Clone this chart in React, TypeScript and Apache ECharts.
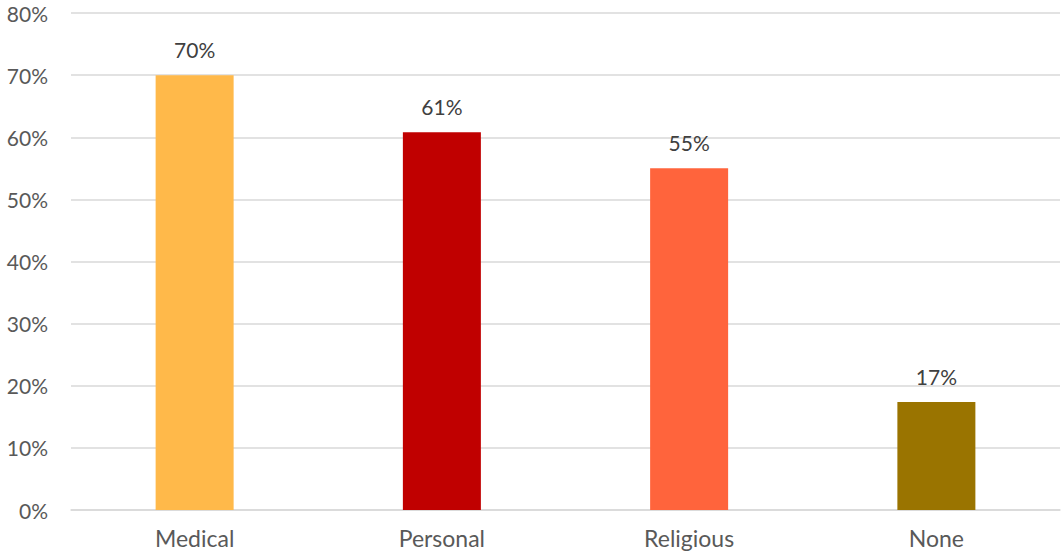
import React, { useEffect, useRef } from "react";
import * as echarts from "echarts";

const categories = ["Medical", "Personal", "Religious", "None"];
const values = [70, 60.8, 55, 17.4];
const barColors = ["#FFB94A", "#C00000", "#FF643C", "#9A7400"];
const yTicks = { min: 0, max: 80, interval: 10 };

export default function App() {
  const ref = useRef<HTMLDivElement>(null);
  useEffect(() => {
    const chart = echarts.init(ref.current!, undefined, { renderer: "svg" });
    const font = "Lato, 'Open Sans', sans-serif";
    chart.setOption({
      animation: false,
      grid: { left: 71, right: 1, top: 13, bottom: 41, containLabel: false },
      xAxis: {
        type: "category",
        data: categories,
        axisLine: { show: true, lineStyle: { color: "#D9D9D9", width: 1.5 } },
        axisTick: { show: false },
        axisLabel: { color: "#595959", fontSize: 23, fontFamily: font, margin: 16 },
      },
      yAxis: {
        type: "value",
        min: yTicks.min,
        max: yTicks.max,
        interval: yTicks.interval,
        axisLine: { show: false },
        axisTick: { show: false },
        splitLine: { lineStyle: { color: "#D9D9D9", width: 1.5 } },
        axisLabel: {
          color: "#595959",
          fontSize: 21,
          fontFamily: font,
          margin: 23,
          formatter: (v: number) => `${v}%`,
        },
      },
      series: [
        {
          type: "bar",
          barWidth: 78,
          data: values.map((v, i) => ({ value: v, itemStyle: { color: barColors[i] } })),
          label: {
            show: true,
            position: "top",
            distance: 15,
            color: "#404040",
            fontSize: 21,
            fontFamily: font,
            formatter: (p: any) => `${Math.round(p.value)}%`,
          },
        },
      ],
    });
    return () => chart.dispose();
  }, []);
  return <div ref={ref} style={{ width: 1061, height: 551, position: "absolute", left: 0, top: 0 }} />;
}
